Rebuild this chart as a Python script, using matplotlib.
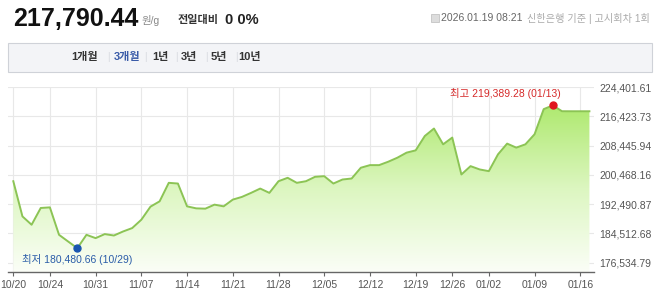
import numpy as np
import matplotlib.pyplot as plt
from matplotlib.colors import LinearSegmentedColormap
from matplotlib.patches import Rectangle

plt.rcParams['font.family'] = ['Liberation Sans', 'Noto Sans CJK KR', 'DejaVu Sans']

# trading days shown on the 3개월 chart
dates = ['10/20', '10/21', '10/22', '10/23', '10/24',
         '10/27', '10/28', '10/29', '10/30', '10/31',
         '11/03', '11/04', '11/05', '11/06', '11/07',
         '11/10', '11/11', '11/12', '11/13', '11/14',
         '11/17', '11/18', '11/19', '11/20', '11/21',
         '11/24', '11/25', '11/26', '11/27', '11/28',
         '12/01', '12/02', '12/03', '12/04', '12/05',
         '12/08', '12/09', '12/10', '12/11', '12/12',
         '12/15', '12/16', '12/17', '12/18', '12/19',
         '12/22', '12/23', '12/24', '12/26',
         '12/29', '12/30', '12/31', '01/02',
         '01/05', '01/06', '01/07', '01/08', '01/09',
         '01/12', '01/13', '01/14', '01/15', '01/16',
         '01/19']

prices = [198729, 189139, 186865, 191440, 191600,
          184125, 182289, 180480.66, 184125, 183220,
          184316, 183933, 185029, 185960, 188235,
          191797, 193249, 198290, 198098, 191879,
          191331, 191249, 192345, 191879, 193715,
          194454, 195550, 196729, 195550, 198729,
          199660, 198290, 198729, 199934, 200099,
          198098, 199195, 199469, 202400, 203113,
          203113, 204044, 205140, 206510, 207140,
          211059, 213086, 208785, 210620,
          200565, 202839, 201935, 201469,
          206045, 208977, 207880, 208785, 211525,
          218375, 219389.28, 217800, 217790.44, 217790.44,
          217790.44]

tick_dates = ['10/20', '10/24', '10/31', '11/07', '11/14', '11/21', '11/28',
              '12/05', '12/12', '12/19', '12/26', '01/02', '01/09', '01/16']
y_ticks = [176534.79, 184512.68, 192490.87, 200468.16, 208445.94, 216423.73, 224401.61]

tabs = ['1개월', '3개월', '1년', '3년', '5년', '10년']

fig = plt.figure(figsize=(6.58, 2.95), dpi=100)

# ---- header ----
fig.text(13/658, 1-19/295, '217,790.44', fontsize=18, fontweight='bold',
         color='#111111', va='center', ha='left')
fig.text(141/658, 1-20/295, '원/g', fontsize=7.5, color='#888888', va='center')
fig.text(178/658, 1-20/295, '전일대비', fontsize=8, color='#333333', va='center', fontweight='bold')
fig.text(225/658, 1-20/295, '0 0%', fontsize=10.5, color='#222222', va='center', fontweight='bold')
fig.text(441/658, 1-18/295, '2026.01.19 08:21', fontsize=7.5, color='#666666', va='center')
fig.text(527/658, 1-18/295, '신한은행 기준 | 고시회차 1회', fontsize=7.3, color='#aaaaaa', va='center')
fig.patches.append(Rectangle((431/658, 1-22/295), 8/658, 8/295, transform=fig.transFigure,
                             facecolor='#dddddd', edgecolor='#bbbbbb', lw=0.5))

# tab bar
fig.patches.append(Rectangle((8/658, 1-72/295), 644/658, 29/295, transform=fig.transFigure,
                             facecolor='#f3f4f7', edgecolor='#cfd2d8', lw=0.8))
tab_x = [85, 127, 160, 189, 219, 250]
for i, (t, tx) in enumerate(zip(tabs, tab_x)):
    c = '#3a5ba8' if t == '3개월' else '#333333'
    fig.text(tx/658, 1-57/295, t, fontsize=8, color=c, va='center', ha='center', fontweight='bold')
    if i < len(tabs) - 1:
        sx = (tx + tab_x[i+1]) / 2 + 2
        fig.text(sx/658, 1-57/295, '|', fontsize=7, color='#d6d8de', va='center', ha='center')

# ---- chart ----
ax = fig.add_axes([8/658, 1-272/295, 586/658, 185/295])
x = np.arange(len(prices))
y = np.array(prices)

ymin, ymax = 173990, 224401.61
ax.set_xlim(-0.58, 63.5)
ax.set_ylim(ymin, ymax)

cmap = LinearSegmentedColormap.from_list('g', ['#fbfef7', '#dcf6c0', '#aee96e'])
grad = np.linspace(0, 1, 256).reshape(-1, 1)
im = ax.imshow(grad, extent=[x[0], x[-1], ymin, 219500], origin='lower',
               aspect='auto', cmap=cmap, zorder=1)
poly = ax.fill_between(x, y, ymin, color='none', lw=0)
im.set_clip_path(poly.get_paths()[0], transform=ax.transData)

ax.plot(x, y, color='#8cc455', lw=1.4, zorder=3)

tick_idx = [dates.index(d) for d in tick_dates]
ax.set_xticks(tick_idx)
ax.set_xticklabels(tick_dates)
ax.set_yticks(y_ticks)
ax.set_yticklabels([f'{v:,.2f}' for v in y_ticks])
ax.yaxis.tick_right()
ax.tick_params(axis='y', length=0, pad=4, labelsize=7.5, labelcolor='#555555')
ax.tick_params(axis='x', length=3, color='#666666', pad=3, labelsize=7.5, labelcolor='#555555')
ax.grid(True, color='#e8e8e8', lw=0.8, zorder=0)
ax.set_axisbelow(True)
for s in ['top', 'right', 'left']:
    ax.spines[s].set_visible(False)
ax.spines['bottom'].set_color('#666666')
ax.spines['bottom'].set_linewidth(1.0)

# min / max markers
i_min = int(np.argmin(y))
i_max = int(np.argmax(y))
ax.plot(i_min, y[i_min], 'o', color='#1a56b0', ms=5, zorder=4)
ax.plot(i_max, y[i_max], 'o', color='#e0141e', ms=5, zorder=4)
ax.text(1, y[i_min] - 3200, f'최저 {y[i_min]:,.2f} ({dates[i_min]})', color='#2a5ca8',
        fontsize=7.5, va='center', ha='left', zorder=5)
ax.text(i_max + 0.9, y[i_max] + 3300, f'최고 {y[i_max]:,.2f} ({dates[i_max]})', color='#d62a2a',
        fontsize=7.5, va='center', ha='right', zorder=5)

fig.savefig('out.png', dpi=100)
